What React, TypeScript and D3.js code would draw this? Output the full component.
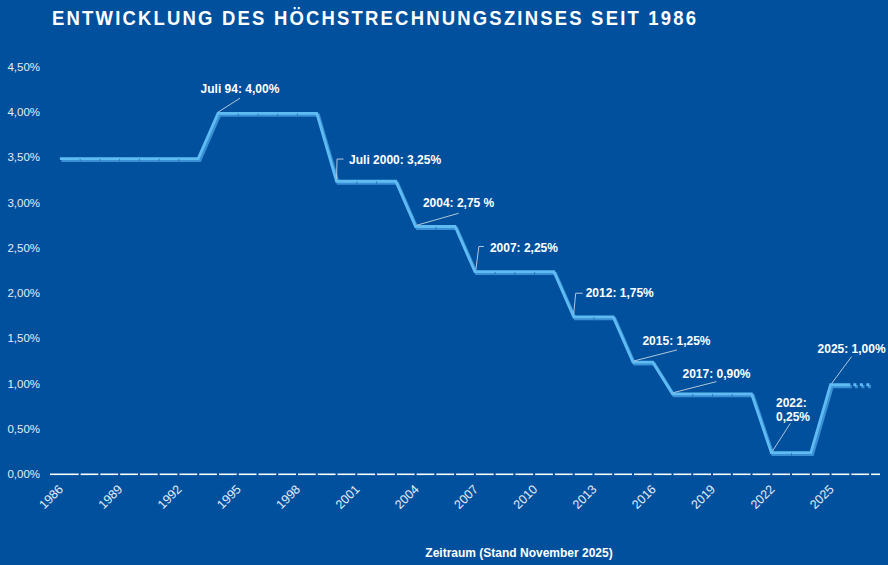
import React from "react";
import * as d3 from "d3";

const years: number[] = d3.range(1986, 2028);
const rates: number[] = [
  3.5, 3.5, 3.5, 3.5, 3.5, 3.5, 3.5, 3.5, // 1986-1993
  4.0, 4.0, 4.0, 4.0, 4.0, 4.0, // 1994-1999
  3.25, 3.25, 3.25, 3.25, // 2000-2003
  2.75, 2.75, 2.75, // 2004-2006
  2.25, 2.25, 2.25, 2.25, 2.25, // 2007-2011
  1.75, 1.75, 1.75, // 2012-2014
  1.25, 1.25, // 2015-2016
  0.9, 0.9, 0.9, 0.9, 0.9, // 2017-2021
  0.25, 0.25, 0.25, // 2022-2024
  1.0, 1.0, 1.0, // 2025-2027
];
const yTicks: number[] = [0, 0.5, 1, 1.5, 2, 2.5, 3, 3.5, 4, 4.5];
const xTickYears: number[] = d3.range(1986, 2026, 3);

const annYears: number[] = [1994, 2000, 2004, 2007, 2012, 2015, 2017, 2022, 2025];
const annTexts: string[][] = [
  ["Juli 94: 4,00%"],
  ["Juli 2000: 3,25%"],
  ["2004: 2,75 %"],
  ["2007: 2,25%"],
  ["2012: 1,75%"],
  ["2015: 1,25%"],
  ["2017: 0,90%"],
  ["2022:", "0,25%"],
  ["2025: 1,00%"],
];

const W = 888;
const H = 565;
const BG = "#00509e";

// layout for annotations (offsets relative to anchor point)
type Lay = { leader: [number, number][]; tx: number; ty: number; anchor: string };
const annLayout: Lay[] = [
  { leader: [[0, 0], [22, -14]], tx: 22, ty: -19, anchor: "middle" },
  { leader: [[0, -1], [0.5, -21], [7, -21]], tx: 12.5, ty: -16, anchor: "start" },
  { leader: [[1, 0], [43, -12]], tx: 43, ty: -18, anchor: "middle" },
  { leader: [[1, -1], [4, -24], [9, -24]], tx: 15, ty: -18.5, anchor: "start" },
  { leader: [[0, -2], [2, -22.5], [9, -22.5]], tx: 12, ty: -18.8, anchor: "start" },
  { leader: [[1, 0], [44, -11]], tx: 43.5, ty: -16, anchor: "middle" },
  { leader: [[1, 0], [44, -11]], tx: 44, ty: -15, anchor: "middle" },
  { leader: [[1, 0], [19, -28]], tx: 4.7, ty: -44.5, anchor: "start" },
  { leader: [[1, 0], [21, -27]], tx: 21, ty: -30.5, anchor: "middle" },
];

const x = d3.scalePoint<number>().domain(years).range([50, 880]).padding(0.5);
const y = d3.scaleLinear().domain([0, 4.5]).range([474, 67]);

const fmt = (v: number) => v.toFixed(2).replace(".", ",") + "%";

export default function App() {
  const pts = years.map((yr, i) => [x(yr) as number, y(rates[i])] as [number, number]);
  const n = pts.length;
  const line = d3.line<[number, number]>();
  const solid = pts.slice(0, n - 1);
  const dotted = pts.slice(n - 2);
  const step = x.step();

  const axisSegs = years.map((yr, i) => {
    const cx = x(yr) as number;
    const x0 = i === 0 ? 50 : cx + 1;
    const x1 = i === n - 1 ? 880 : cx + step - 1;
    return [x0, x1];
  });

  const titleScale = 0.88;

  return (
    <svg width={W} height={H} style={{ display: "block", position: "absolute", left: 0, top: 0 }}
      fontFamily="'Liberation Sans', Arial, sans-serif">
      <rect x={0} y={0} width={W} height={H} fill={BG} />
      <g transform={`translate(52,25) scale(${titleScale},1)`}>
        <text x={0} y={0} fill="#ffffff" fontSize={21} fontWeight="bold"
          textLength={644 / titleScale} lengthAdjust="spacing">
          ENTWICKLUNG DES HÖCHSTRECHNUNGSZINSES SEIT 1986
        </text>
      </g>

      {/* y labels */}
      {yTicks.map((t) => (
        <text key={t} x={40} y={y(t)} dy="0.35em" textAnchor="end" fill="#e6edf7" fontSize={11.5}>
          {fmt(t)}
        </text>
      ))}

      {/* x axis baseline */}
      {axisSegs.map(([a, b], i) => (
        <line key={i} x1={a} x2={b} y1={474.3} y2={474.3} stroke="#ffffff" strokeWidth={1.6} />
      ))}

      {/* x labels */}
      {xTickYears.map((yr) => {
        const px = (x(yr) as number) + 4;
        const py = 490;
        return (
          <text key={yr} x={px} y={py} textAnchor="end" fill="#e6edf7" fontSize={12.5}
            transform={`rotate(-45 ${px} ${py})`}>
            {yr}
          </text>
        );
      })}

      {/* 3D ribbon line */}
      <g transform="translate(1.6,3)">
        <path d={line(solid) || ""} fill="none" stroke="#3b8fd4" strokeWidth={3.2} strokeLinejoin="miter" />
        <path d={line(dotted) || ""} fill="none" stroke="#3b8fd4" strokeWidth={3.2} strokeDasharray="3,3.5" strokeDashoffset={-3} />
      </g>
      <g transform="translate(0,1.2)">
        <path d={line(solid) || ""} fill="none" stroke="#5fbcf2" strokeWidth={2.8} strokeLinejoin="miter" />
        <path d={line(dotted) || ""} fill="none" stroke="#5fbcf2" strokeWidth={2.8} strokeDasharray="3,3.5" strokeDashoffset={-3} />
      </g>
      {/* segment dividers */}
      {pts.slice(1, n - 1).map(([px, py], i) => {
        const prev = pts[i];
        const next = pts[i + 2];
        if (prev[1] !== py || next[1] !== py) return null;
        return (
          <line key={i} x1={px + 0.5} x2={px + 0.5} y1={py + 1.5} y2={py + 4.8}
            stroke="#2d78bd" strokeWidth={1} />
        );
      })}

      {/* annotations */}
      {annYears.map((yr, i) => {
        const idx = years.indexOf(yr);
        const [ax, ay] = pts[idx];
        const L = annLayout[i];
        const lp = L.leader.map(([dx, dy]) => [ax + dx, ay + dy] as [number, number]);
        return (
          <g key={yr}>
            <path d={line(lp) || ""} fill="none" stroke="#b4c6dc" strokeWidth={1} />
            {annTexts[i].map((t, j) => (
              <text key={j} x={ax + L.tx} y={ay + L.ty + j * 14} textAnchor={L.anchor}
                fill="#ffffff" fontSize={12} fontWeight="bold">
                {t}
              </text>
            ))}
          </g>
        );
      })}

      <text x={519} y={557} textAnchor="middle" fill="#ffffff" fontSize={12} fontWeight="bold">
        Zeitraum (Stand November 2025)
      </text>
    </svg>
  );
}
